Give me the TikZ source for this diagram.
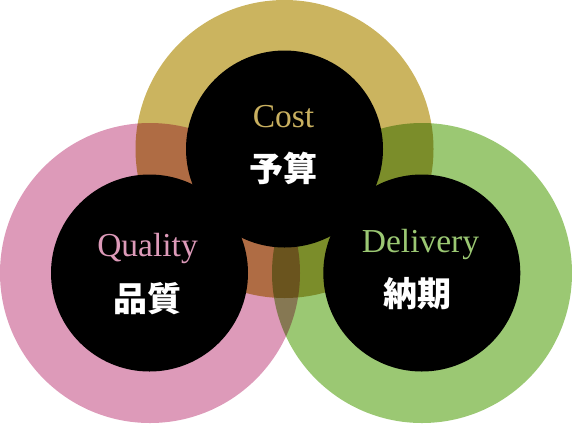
\documentclass[tikz,border=0pt]{standalone}
\usepackage{fontspec}
\newfontfamily\cjk{Noto Sans CJK JP}
\newfontfamily\enserif{Liberation Serif}
\definecolor{cgold}{HTML}{CBB45F}
\definecolor{cpink}{HTML}{DD9AB9}
\definecolor{cgreen}{HTML}{9BC873}
\definecolor{tgold}{HTML}{C9B060}
\tikzset{
  ring/.style={circle, inner sep=0pt, minimum size=300pt},
  core/.style={circle, fill=black, inner sep=0pt, minimum size=197pt},
  entitle/.style={anchor=base, inner sep=0pt, font=\enserif\fontsize{33.5}{34}\selectfont},
  jptitle/.style={anchor=base, inner sep=0pt, text=white, font=\cjk\bfseries\fontsize{34}{36}\selectfont},
}
\begin{document}
\begin{tikzpicture}[x=1pt,y=-1pt]
\useasboundingbox (0,0) rectangle (572,424);
\begin{scope}[blend group=multiply]
  \node[ring, fill=cgold, minimum size=298pt] (gring) at (284.5,149) {};
  \node[ring, fill=cpink] (pring) at (150,273) {};
  \node[ring, fill=cgreen] (vring) at (422,273) {};
\end{scope}
\node[core] (gcore) at (284.5,149) {};
\node[core] (pcore) at (149.5,273) {};
\node[core] (vcore) at (421.8,273) {};
\node[entitle, text=tgold] (cost) at (283.5,127) {Cost};
\node[jptitle] (yosan) at (283.5,181) {予算};
\node[entitle, text=cpink] (quality) at (147.5,256) {Quality};
\node[jptitle] (hinshitsu) at (147.5,311) {品質};
\node[entitle, text=cgreen] (delivery) at (420.5,252) {Delivery};
\node[jptitle] (nouki) at (417,306) {納期};
\end{tikzpicture}
\end{document}
